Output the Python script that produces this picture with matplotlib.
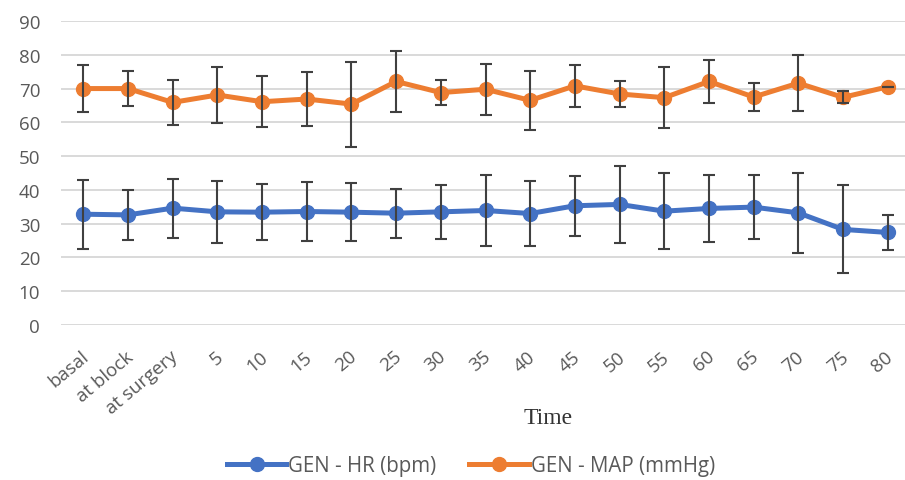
import matplotlib
matplotlib.use("Agg")
import matplotlib.pyplot as plt
import matplotlib.transforms as mtransforms
import numpy as np

times = ['basal', 'at block', 'at surgery', '5', '10', '15', '20', '25', '30', '35',
         '40', '45', '50', '55', '60', '65', '70', '75', '80']

hr_mean = [32.8, 32.6, 34.6, 33.5, 33.4, 33.6, 33.4, 33.1, 33.5, 33.9,
           33.0, 35.3, 35.7, 33.7, 34.5, 34.9, 33.2, 28.3, 27.4]
hr_sd = [10.2, 7.4, 8.7, 9.1, 8.2, 8.6, 8.5, 7.2, 8.0, 10.5,
         9.5, 8.9, 11.4, 11.3, 9.9, 9.5, 11.8, 13.0, 5.1]

map_mean = [70.0, 70.0, 65.9, 68.1, 66.1, 66.9, 65.4, 72.1, 68.8, 69.8,
            66.5, 70.8, 68.4, 67.3, 72.1, 67.5, 71.6, 67.4, 70.5]
map_sd = [7.0, 5.3, 6.7, 8.2, 7.6, 8.0, 12.6, 9.1, 3.8, 7.6,
          8.7, 6.2, 3.8, 9.0, 6.4, 4.2, 8.2, 1.8, 0.0]

blue = '#4472C4'
orange = '#ED7D31'
grey_txt = '#595959'

plt.rcParams['font.family'] = ['Open Sans', 'DejaVu Sans']

fig = plt.figure(figsize=(9.05, 4.81), dpi=100)
ax = fig.add_axes([61 / 905, 1 - 326 / 481, 849 / 905, 304 / 481])

x = np.arange(len(times))

ax.plot(x, hr_mean, color=blue, lw=3.6, marker='o', ms=10, label='GEN - HR (bpm)', zorder=3)
ax.plot(x, map_mean, color=orange, lw=3.6, marker='o', ms=10, label='GEN - MAP (mmHg)', zorder=3)
ax.errorbar(x, hr_mean, yerr=hr_sd, fmt='none', ecolor='#404040', elinewidth=1.5,
            capsize=4, capthick=1.5, zorder=4)
ax.errorbar(x, map_mean, yerr=map_sd, fmt='none', ecolor='#404040', elinewidth=1.5,
            capsize=4, capthick=1.5, zorder=4)

ax.set_ylim(0, 90)
ax.set_xlim(-0.5, 18.5)
ax.set_yticks(range(0, 91, 10))
ax.yaxis.grid(True, color='#d9d9d9', lw=1.4)
ax.set_axisbelow(True)
for s in ax.spines.values():
    s.set_visible(False)
ax.tick_params(axis='both', length=0, labelsize=13.5, labelcolor=grey_txt)
ax.tick_params(axis='y', pad=15)

ax.set_xticks(x)
ax.set_xticklabels(times, rotation=40, ha='right', va='center', rotation_mode='anchor')
offset = mtransforms.ScaledTranslation(3 / 100, -24 / 100, fig.dpi_scale_trans)
for lab in ax.get_xticklabels():
    lab.set_transform(lab.get_transform() + offset)

fig.text(548 / 905, 1 - 419 / 481, 'Time', ha='center', va='center',
         family='Liberation Serif', fontsize=17, color='#333333')

leg = fig.legend(loc='center', bbox_to_anchor=(471 / 905, 1 - 467 / 481), ncol=2,
                 frameon=False, fontsize=14.8, handlelength=2.9, columnspacing=1.6,
                 handletextpad=0.1)
for t in leg.get_texts():
    t.set_color(grey_txt)

fig.savefig('out.png', dpi=100)
